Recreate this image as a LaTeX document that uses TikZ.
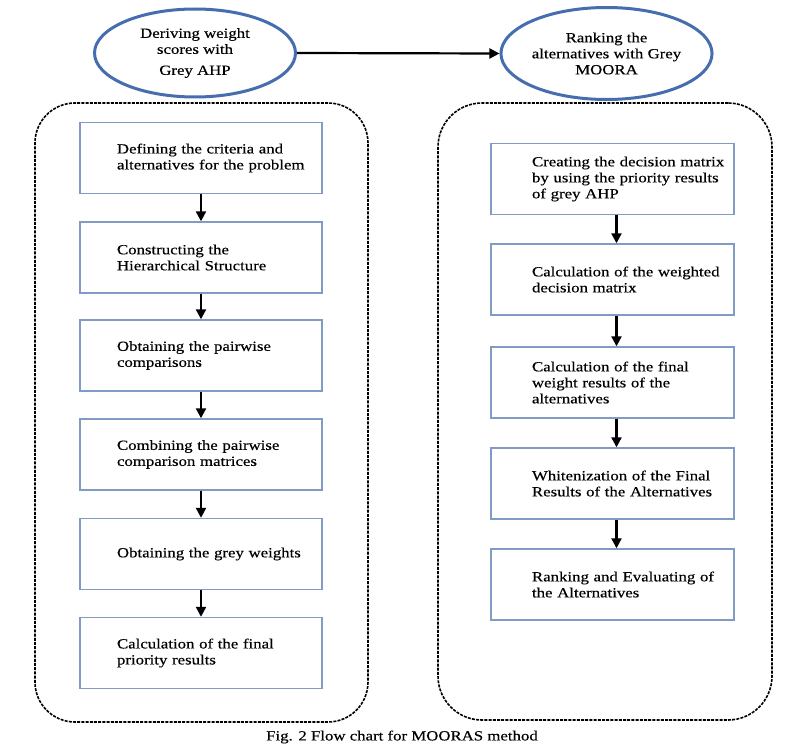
\documentclass[tikz,border=0pt]{standalone}
\usepackage{fontspec}
\setmainfont{Liberation Serif}[FakeStretch=1.2,FakeBold=0.35]
\usetikzlibrary{shapes.geometric,arrows.meta}
\definecolor{ellblue}{RGB}{70,110,175}
\definecolor{boxblue}{RGB}{128,156,196}
\begin{document}
\begin{tikzpicture}[x=1pt,y=-1pt,
  txt/.style={font=\fontsize{14}{16}\selectfont},
  ell/.style={ellipse, draw=ellblue, line width=3pt, fill=white, inner sep=0pt, align=center, txt},
  stepbox/.style={draw=boxblue, line width=1.4pt, minimum height=71pt, inner xsep=6pt, inner ysep=0pt, align=left, txt},
  lbox/.style={stepbox, text width=230pt, minimum width=242pt, execute at begin node={\leftskip=31pt}},
  rbox/.style={stepbox, text width=231pt, minimum width=243pt, execute at begin node={\leftskip=35pt}},
  cont/.style={draw=black, dash pattern=on 3pt off 1.2pt, line width=1.6pt, rounded corners=40pt, inner sep=0pt},
  arr/.style={-{Triangle[length=10pt,width=10pt]}, line width=2.2pt}
]
\useasboundingbox (0,0) rectangle (785,749);

% dashed containers
\node[cont, minimum width=333pt, minimum height=619pt] (lcont) at (201.5,412.5) {};
\node[cont, minimum width=334pt, minimum height=617pt, rounded corners=44pt] (rcont) at (605,411.5) {};

% ellipses
\node[ell, minimum width=201pt, minimum height=88pt] (lell) at (195,53) {Deriving weight\\scores with\\[5pt]Grey AHP};
\node[ell, minimum width=210pt, minimum height=92pt] (rell) at (606.5,53.5) {Ranking the\\alternatives with Grey\\MOORA};
\draw[arr] (lell.east) -- (rell.west);

% left column
\node[lbox] (L1) at (201,158) {Defining the criteria and\\alternatives for the problem};
\node[lbox] (L2) at (201,257.5) {Constructing the\\Hierarchical Structure};
\node[lbox] (L3) at (201,355.5) {Obtaining the pairwise\\comparisons};
\node[lbox] (L4) at (201,454.5) {Combining the pairwise\\comparison matrices};
\node[lbox] (L5) at (201,554) {Obtaining the grey weights};
\node[lbox] (L6) at (201,653) {Calculation of the final\\priority results};
\foreach \a/\b in {L1/L2,L2/L3,L3/L4,L4/L5,L5/L6}
  \draw[arr] (\a.south) -- (\b.north);

% right column
\node[rbox] (R1) at (612.5,179) {Creating the decision matrix\\by using the priority results\\of grey AHP};
\node[rbox] (R2) at (612.5,279.5) {Calculation of the weighted\\decision matrix};
\node[rbox] (R3) at (612.5,382.5) {Calculation of the final\\weight results of the\\alternatives};
\node[rbox] (R4) at (612.5,483.5) {Whitenization of the Final\\Results of the Alternatives};
\node[rbox] (R5) at (612.5,584.5) {Ranking and Evaluating of\\the Alternatives};
\foreach \a/\b in {R1/R2,R2/R3,R3/R4,R4/R5}
  \draw[arr] ([xshift=4pt]\a.south) -- ([xshift=4pt]\b.north);

% caption
\node[txt] (cap) at (402,737) {Fig. 2 Flow chart for MOORAS method};
\end{tikzpicture}
\end{document}
